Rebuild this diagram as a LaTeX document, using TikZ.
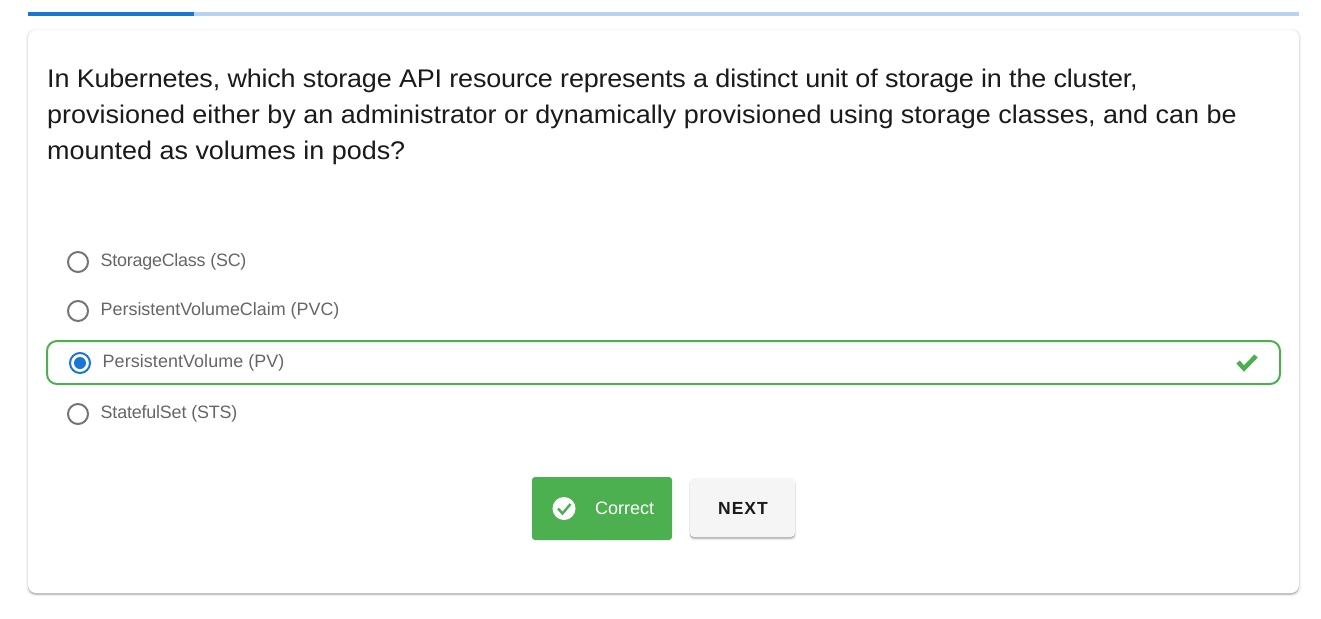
\documentclass[tikz,border=0pt]{standalone}
\usepackage{fontspec}
\setmainfont{Liberation Sans}
\newfontfamily\questionfont[FakeStretch=1.057]{Liberation Sans}
\usetikzlibrary{positioning}
\definecolor{barblue}{HTML}{1976D2}
\definecolor{barlight}{HTML}{B6D3F0}
\definecolor{okgreen}{HTML}{4CAF50}
\definecolor{radiogray}{HTML}{757575}
\definecolor{optgray}{HTML}{666666}
\definecolor{inkdark}{HTML}{1A1A1A}
\definecolor{nextgray}{HTML}{F5F5F5}
\tikzset{
  question/.style={anchor=north west,align=left,inner sep=0pt,text=inkdark,font=\questionfont\fontsize{25.5}{36}\selectfont},
  optlabel/.style={anchor=west,inner sep=0pt,text=optgray,font=\fontsize{17.9}{20}\selectfont},
  radio/.style={circle,draw=radiogray,line width=2pt,minimum size=20pt,inner sep=0pt,fill=white},
  softedge/.style={rounded corners=8pt,draw=none},
}
\begin{document}
\begin{tikzpicture}[x=1pt,y=-1pt]
\useasboundingbox (0,0) rectangle (1321,618);
\fill[white] (0,0) rectangle (1321,618);
% progress bar
\fill[barlight] (28,12) rectangle (1299,16);
\fill[barblue] (28,12) rectangle (194,16);
% card with its shadow
\fill[black!3,softedge] (26,29) rectangle (1301,596);
\fill[black!9,softedge] (27,30) rectangle (1300,595.5);
\fill[black!28,softedge] (28,31) rectangle (1299,594.5);
\fill[white,softedge] (28,30) rectangle (1299,593);
% question
\node[question] (questiontext) at (47,69) {{\addfontfeature{LetterSpace=-0.74}In Kubernetes, which storage API resource represents a distinct unit of storage in the cluster,}\\
provisioned either by an administrator or dynamically provisioned using storage classes, and can be\\
mounted as volumes in pods?};
% options
\node[radio] (radiosc) at (78,262) {};
\node[optlabel,right=11.5pt of radiosc.east,yshift=0.5pt] (optsc) {\addfontfeature{LetterSpace=-1.3}StorageClass (SC)};
\node[radio] (radiopvc) at (78,311) {};
\node[optlabel,right=11.5pt of radiopvc.east,yshift=0.5pt] (optpvc) {PersistentVolumeClaim (PVC)};
\draw[okgreen,line width=2pt,rounded corners=10pt] (47,341) rectangle (1280,384);
\node[radio,draw=barblue] (radiopv) at (80,363) {};
\fill[barblue] (radiopv.center) circle (6pt);
\node[optlabel,right=11.5pt of radiopv.east,yshift=0.5pt] (optpv) {\addfontfeature{LetterSpace=0.5}PersistentVolume (PV)};
\draw[okgreen,line width=4.5pt] (1238,362) -- (1244,368.5) -- (1256,356);
\node[radio] (radiosts) at (78,414) {};
\node[optlabel,right=11.5pt of radiosts.east,yshift=0.5pt] (optsts) {\addfontfeature{LetterSpace=-1}StatefulSet (STS)};
% buttons
\fill[okgreen,rounded corners=3pt] (532,477) rectangle (672,540);
\fill[white] (564,508.5) circle (11.5pt);
\draw[okgreen,line width=2.4pt] (558,508.5) -- (562.5,513.5) -- (570.5,504);
\node[anchor=west,inner sep=0pt,text=white,font=\fontsize{18}{20}\selectfont] (correctlabel) at (595,508) {Correct};
\fill[black!8,rounded corners=4pt] (689,480) rectangle (796,540);
\fill[black!30,rounded corners=4pt] (690,480) rectangle (795,538.5);
\fill[nextgray,rounded corners=4pt] (690,478) rectangle (795,537);
\node[inner sep=0pt,text=inkdark,font=\fontsize{17.5}{20}\selectfont\bfseries\addfontfeature{LetterSpace=6}] (nextlabel) at (743,508) {NEXT};
\end{tikzpicture}
\end{document}
